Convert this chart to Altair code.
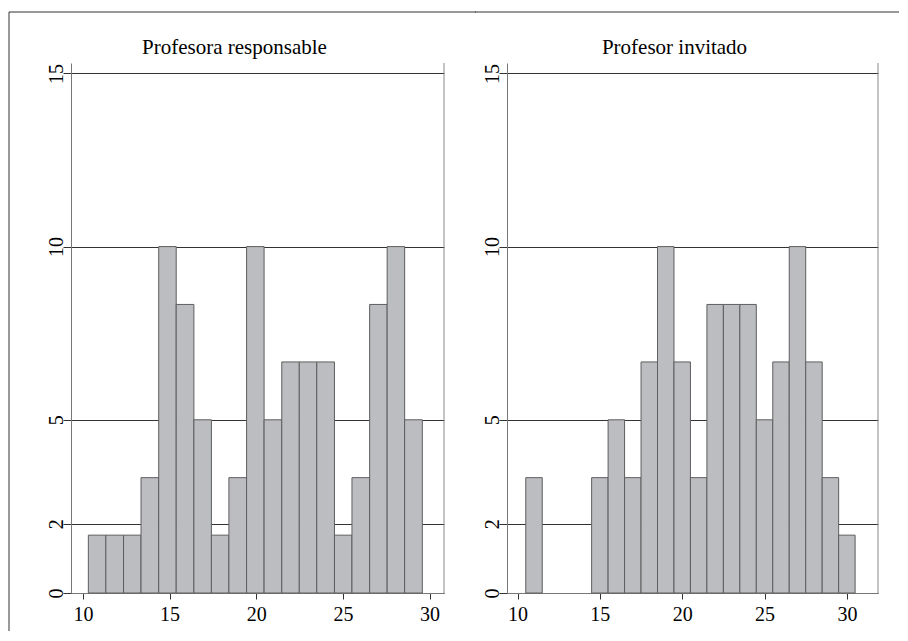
import altair as alt
import pandas as pd

# Left panel: "Profesora responsable" (percent per bin)
left_start = [10.31, 11.32, 12.34, 13.35, 14.37, 15.38, 16.40, 17.41, 18.42, 19.44,
              20.45, 21.47, 22.48, 23.49, 24.51, 25.52, 26.54, 27.55, 28.56]
left_end = [11.32, 12.34, 13.35, 14.37, 15.38, 16.40, 17.41, 18.42, 19.44, 20.45,
            21.47, 22.48, 23.49, 24.51, 25.52, 26.54, 27.55, 28.56, 29.58]
left_pct = [1.67, 1.67, 1.67, 3.33, 10.0, 8.33, 5.0, 1.67, 3.33, 10.0,
            5.0, 6.67, 6.67, 6.67, 1.67, 3.33, 8.33, 10.0, 5.0]

# Right panel: "Profesor invitado"
right_start = [10.5, 11.5, 12.5, 13.5, 14.5, 15.5, 16.5, 17.5, 18.5, 19.5,
               20.5, 21.5, 22.5, 23.5, 24.5, 25.5, 26.5, 27.5, 28.5, 29.5]
right_end = [11.5, 12.5, 13.5, 14.5, 15.5, 16.5, 17.5, 18.5, 19.5, 20.5,
             21.5, 22.5, 23.5, 24.5, 25.5, 26.5, 27.5, 28.5, 29.5, 30.5]
right_pct = [3.33, 0, 0, 0, 3.33, 5.0, 3.33, 6.67, 10.0, 6.67,
             3.33, 8.33, 8.33, 8.33, 5.0, 6.67, 10.0, 6.67, 3.33, 1.67]

x_ticks = [10, 15, 20, 25, 30]
y_ticks = [0, 2, 5, 10, 15]

FONT = "Liberation Serif"
H = 530


def panel(start, end, pct, title, xdom, w, dx, frame_left):
    df = pd.DataFrame({"start": start, "end": end, "pct": pct})
    df = df[df["pct"] > 0]
    one = pd.DataFrame({"a": [0]})
    bars = alt.Chart(df).mark_rect(
        fill="#bcbdc1", stroke="#5e5e5e", strokeWidth=1
    ).encode(
        x=alt.X("start:Q",
                scale=alt.Scale(domain=xdom, nice=False, zero=False),
                axis=alt.Axis(values=x_ticks, title=None, grid=False,
                              tickSize=6, tickColor="#333", domainColor="#777",
                              labelPadding=5, labelFlush=False, labelOverlap=False)),
        x2="end:Q",
        y=alt.Y("pct:Q",
                scale=alt.Scale(domain=[0, 15.3], nice=False),
                axis=alt.Axis(values=y_ticks, title=None, grid=True,
                              gridColor="#333", gridWidth=1,
                              tickSize=8, tickColor="#333", domainColor="#777",
                              labelAngle=270, labelAlign="center",
                              labelBaseline="alphabetic", labelPadding=1,
                              labelFlush=False, labelOverlap=False)),
        y2=alt.datum(0),
    )
    right_border = alt.Chart(one).mark_rule(color="#888", strokeWidth=1).encode(
        x=alt.value(w), y=alt.value(0), y2=alt.value(H)
    )
    layers = [bars, right_border]
    if frame_left:
        layers.append(alt.Chart(one).mark_rule(color="#333", strokeWidth=1).encode(
            x=alt.value(-62), y=alt.value(-51), y2=alt.value(568)))
        layers.append(alt.Chart(one).mark_rule(color="#333", strokeWidth=1).encode(
            x=alt.value(-62), x2=alt.value(w + 32), y=alt.value(-51)))
    else:
        layers.append(alt.Chart(one).mark_rule(color="#333", strokeWidth=1).encode(
            x=alt.value(-32), x2=alt.value(w + 21), y=alt.value(-51)))
    return alt.layer(*layers).properties(
        width=w, height=H,
        title=alt.TitleParams(text=title, font=FONT, fontSize=21,
                              fontWeight="normal", color="black",
                              anchor="middle", dx=dx, offset=-46),
    )


left = panel(left_start, left_end, left_pct, "Profesora responsable",
             [9.31, 30.83], 373, -23, True)
right = panel(right_start, right_end, right_pct, "Profesor invitado",
              [9.36, 31.89], 371, -18, False)

chart = alt.hconcat(left, right, spacing=63, bounds="flush").properties(
    padding={"left": 0, "top": 3, "right": 0, "bottom": 0}
).configure_view(strokeWidth=0).configure_axis(
    labelFont=FONT, labelFontSize=20, labelColor="black"
)

chart.save("out.html", embed_options={"renderer": "svg", "actions": False})
